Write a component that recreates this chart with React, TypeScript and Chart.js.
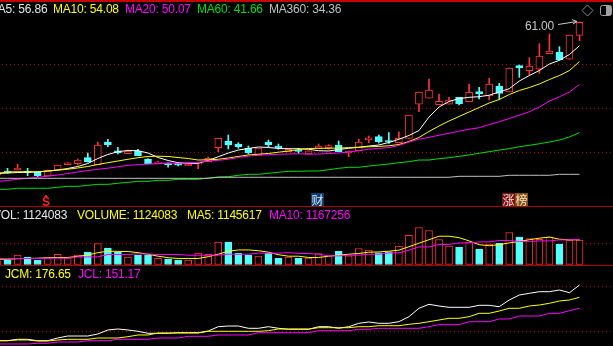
import React, { useEffect, useRef } from 'react';
import { Chart, registerables } from 'chart.js';
Chart.register(...registerables);

// ---------- data ----------
const OPEN = [34.24, 34.94, 35.11, 34.94, 34.71, 34.07, 35.11, 36.04, 36.22, 37.27,
  36.04, 40.01, 38.49, 37.97, 38.44, 36.99, 36.22, 36.39, 36.29, 35.87,
  36.16, 36.57, 39.02, 40.19, 39.66, 38.91, 37.74, 40.01, 39.31, 38.32,
  38.61, 37.91, 38.91, 39.02, 39.49, 38.09, 38.49, 40.36, 40.94, 40.24,
  39.89, 40.66, 46.61, 47.66, 46.54, 46.61, 47.83, 47.06, 48.81, 48.06,
  49.81, 48.76, 53.39, 52.48, 52.73, 55.46, 55.70, 54.48, 58.67];
const HIGH = [34.90, 35.41, 36.11, 35.41, 34.71, 35.11, 35.99, 36.39, 37.04, 38.09,
  40.01, 40.49, 39.09, 38.61, 38.74, 37.10, 36.69, 36.39, 36.43, 36.11,
  36.39, 37.39, 40.66, 41.24, 39.89, 39.31, 38.96, 40.36, 39.66, 38.79,
  38.87, 38.49, 39.66, 39.54, 40.19, 38.44, 40.49, 41.06, 41.24, 41.64,
  41.81, 44.73, 48.76, 51.03, 48.41, 47.83, 47.83, 50.16, 49.58, 51.15,
  50.28, 52.96, 53.48, 54.76, 57.20, 58.90, 56.68, 58.73, 61.00];
const LOW = [34.10, 34.54, 35.11, 34.12, 33.94, 34.07, 35.11, 36.04, 35.99, 36.51,
  36.04, 39.19, 37.91, 37.97, 37.62, 36.16, 36.22, 35.59, 35.81, 35.87,
  35.34, 36.57, 38.32, 38.79, 38.91, 37.91, 37.74, 39.19, 38.74, 38.32,
  38.04, 37.91, 38.91, 38.74, 38.32, 37.44, 38.49, 39.89, 39.84, 39.78,
  39.89, 40.66, 45.31, 47.66, 46.54, 46.61, 46.48, 47.06, 47.53, 47.36,
  47.48, 48.76, 51.33, 51.73, 52.03, 55.46, 54.35, 54.48, 57.73];
const CLOSE = [34.76, 34.64, 35.46, 34.71, 34.12, 35.11, 35.99, 36.39, 36.86, 36.51,
  39.49, 39.54, 38.14, 38.44, 37.62, 36.16, 36.51, 36.04, 35.94, 36.11,
  36.39, 37.16, 40.66, 39.49, 39.19, 38.14, 38.96, 39.54, 38.96, 38.74,
  38.35, 38.49, 39.31, 39.37, 38.32, 38.44, 40.01, 40.76, 40.06, 40.01,
  40.66, 44.73, 48.76, 49.11, 47.13, 47.36, 46.66, 48.70, 48.41, 50.16,
  48.53, 52.96, 52.96, 53.31, 55.05, 55.93, 54.35, 58.73, 60.95];

const MA5 = [34.50, 34.59, 34.68, 34.71, 34.77, 34.94, 35.12, 35.38, 35.73, 36.25,
  37.13, 37.83, 38.32, 38.53, 38.49, 38.09, 37.30, 36.78, 36.39, 36.29,
  36.29, 36.78, 37.44, 38.09, 38.61, 38.88, 39.14, 39.05, 38.88, 38.84,
  38.84, 38.74, 38.49, 38.44, 38.70, 38.91, 39.09, 39.31, 39.49, 39.93,
  40.48, 41.15, 42.02, 44.38, 46.13, 47.10, 47.59, 47.83, 47.94, 48.20,
  48.76, 49.33, 50.68, 51.64, 52.52, 53.65, 54.30, 55.32, 56.86];
const MA10 = [34.50, 34.77, 34.82, 34.82, 34.82, 34.91, 35.08, 35.25, 35.47, 35.73,
  36.08, 36.39, 36.69, 36.99, 37.27, 37.48, 37.53, 37.48, 37.30, 37.13,
  36.86, 36.90, 36.99, 37.21, 37.48, 37.74, 37.88, 38.00, 38.23, 38.44,
  38.68, 38.88, 38.91, 38.91, 38.96, 39.02, 39.10, 39.17, 39.24, 39.35,
  39.57, 40.10, 40.80, 41.85, 42.81, 43.69, 44.47, 45.26, 46.05, 46.83,
  47.45, 48.32, 49.02, 49.54, 50.16, 50.94, 51.64, 52.52, 54.08];
const MA20 = [33.10, 33.28, 33.49, 33.66, 33.84, 34.03, 34.24, 34.50, 34.77, 35.03,
  35.24, 35.43, 35.69, 35.94, 36.04, 36.16, 36.22, 36.29, 36.29, 36.39,
  36.46, 36.69, 36.81, 36.99, 37.30, 37.56, 37.69, 37.79, 37.86, 37.91,
  37.95, 37.88, 37.91, 38.00, 38.09, 38.26, 38.49, 38.74, 38.91, 39.02,
  39.43, 40.01, 40.50, 40.83, 41.20, 41.53, 41.90, 42.25, 42.51, 43.07,
  43.55, 44.12, 44.70, 45.30, 46.13, 47.18, 47.92, 48.76, 50.07];
const MA60 = [31.74, 31.74, 31.92, 31.92, 31.92, 31.92, 32.09, 32.26, 32.26, 32.44,
  32.61, 32.61, 32.79, 32.96, 33.14, 33.14, 33.31, 33.31, 33.49, 33.49,
  33.49, 33.72, 33.89, 33.94, 34.19, 34.36, 34.36, 34.54, 34.71, 34.89,
  34.89, 34.94, 34.94, 35.17, 35.41, 35.59, 35.59, 35.81, 35.99, 36.16,
  36.39, 36.57, 36.86, 36.86, 37.09, 37.27, 37.51, 37.74, 38.04, 38.32,
  38.61, 38.84, 39.19, 39.43, 39.71, 40.01, 40.36, 40.90, 41.66];
const MA360 = [33.66, 33.66, 33.66, 33.66, 33.66, 33.66, 33.66, 33.66, 33.66, 33.66,
  33.66, 33.66, 33.66, 33.66, 33.66, 33.66, 33.66, 33.66, 33.66, 33.66,
  33.66, 33.66, 33.84, 33.84, 33.84, 33.84, 33.84, 33.84, 33.84, 33.84,
  33.84, 33.84, 33.84, 33.84, 33.84, 33.84, 33.84, 33.84, 33.84, 33.84,
  33.84, 33.84, 33.84, 33.84, 33.84, 33.84, 34.01, 34.01, 34.01, 34.01,
  34.01, 34.19, 34.19, 34.19, 34.19, 34.19, 34.36, 34.36, 34.36];

const VOLUME = [167000, 199000, 430000, 338000, 199000, 305000, 476000, 305000, 430000, 569000,
  971000, 754000, 569000, 338000, 430000, 430000, 291000, 245000, 199000, 199000,
  523000, 476000, 1032000, 1032000, 523000, 430000, 384000, 523000, 291000, 338000,
  291000, 300000, 509000, 398000, 615000, 398000, 740000, 662000, 537000, 583000,
  847000, 1355000, 1712000, 1573000, 1157000, 847000, 800000, 1032000, 708000, 939000,
  985000, 1480000, 1263000, 1203000, 1170000, 1263000, 939000, 1124000, 1124083];
const VOL_MA5 = [245000, 245000, 268000, 278000, 291000, 315000, 324000, 324000, 375000, 439000,
  546000, 615000, 606000, 601000, 546000, 476000, 384000, 315000, 278000, 278000,
  278000, 361000, 476000, 615000, 671000, 675000, 638000, 569000, 453000, 384000,
  384000, 324000, 324000, 384000, 430000, 476000, 509000, 569000, 583000, 615000,
  662000, 823000, 985000, 1147000, 1309000, 1309000, 1240000, 1092000, 916000, 870000,
  916000, 999000, 1064000, 1147000, 1217000, 1272000, 1170000, 1138000, 1145617];
const VOL_MA10 = [278000, 278000, 278000, 278000, 278000, 291000, 291000, 291000, 352000, 352000,
  352000, 463000, 463000, 463000, 490000, 490000, 463000, 463000, 463000, 430000,
  430000, 430000, 430000, 476000, 476000, 476000, 523000, 523000, 523000, 555000,
  509000, 509000, 476000, 398000, 398000, 430000, 430000, 476000, 476000, 537000,
  537000, 662000, 814000, 814000, 925000, 925000, 999000, 999000, 1045000, 1045000,
  1110000, 1110000, 1064000, 1064000, 1092000, 1092000, 1138000, 1138000, 1167256];

const JCS = [76.14, 76.14, 79.38, 79.38, 76.14, 76.14, 82.39, 87.02, 87.02, 87.02,
  91.66, 100.92, 103.24, 100.92, 97.91, 93.28, 93.28, 93.28, 94.67, 94.67,
  94.67, 98.60, 108.56, 110.18, 110.18, 104.86, 104.86, 108.56, 104.86, 102.54,
  102.54, 102.54, 108.56, 108.56, 104.86, 108.56, 116.44, 119.45, 116.44, 116.44,
  120.14, 131.72, 151.17, 160.44, 156.50, 153.49, 153.49, 153.49, 158.12, 158.12,
  154.88, 170.40, 181.98, 185.92, 189.62, 189.62, 193.56, 187.30, 205.14];
const JCM = [76.14, 76.14, 77.76, 77.76, 75.44, 75.44, 77.76, 79.38, 79.38, 79.38,
  82.39, 82.39, 82.39, 85.40, 89.34, 89.34, 93.97, 93.97, 93.97, 93.97,
  93.97, 97.91, 97.91, 97.91, 97.91, 97.91, 97.91, 99.30, 103.24, 103.24,
  103.24, 103.24, 106.25, 106.25, 106.25, 106.25, 108.56, 108.56, 110.88, 110.88,
  110.88, 114.12, 116.44, 120.14, 124.08, 128.02, 128.02, 131.72, 139.60, 139.60,
  144.92, 151.17, 151.17, 156.50, 158.82, 162.76, 168.08, 170.40, 176.65];
const JCL = [68.50, 68.50, 68.50, 68.50, 70.12, 70.12, 73.13, 73.13, 73.13, 76.14,
  76.14, 76.14, 79.38, 79.38, 79.38, 79.38, 82.39, 82.39, 82.39, 86.33,
  86.33, 86.33, 89.34, 89.34, 89.34, 89.34, 94.67, 94.67, 94.67, 94.67,
  94.67, 94.67, 99.30, 99.30, 99.30, 99.30, 102.54, 102.54, 104.86, 104.86,
  104.86, 104.86, 104.86, 108.56, 113.19, 113.19, 113.19, 120.14, 120.14, 120.14,
  126.40, 126.40, 133.34, 133.34, 133.34, 139.60, 139.60, 145.58, 151.17];

const PRICE_GRID = [53.57, 45.91, 38.21];
const VOL_GRID = [985000];
const JC_GRID = [202.8, 97.9];

const MAIN_LEGEND = [
  { text: 'MA5: 56.86', color: '#e8e8e8', x: -12 },
  { text: 'MA10: 54.08', color: '#ffff00', x: 53 },
  { text: 'MA20: 50.07', color: '#ff00ff', x: 125 },
  { text: 'MA60: 41.66', color: '#00e000', x: 197 },
  { text: 'MA360: 34.36', color: '#c0c0c0', x: 269 },
];
const VOL_LEGEND = [
  { text: 'VOL: 1124083', color: '#e8e8e8', x: -7 },
  { text: 'VOLUME: 1124083', color: '#ffff00', x: 77 },
  { text: 'MA5: 1145617', color: '#ffff00', x: 187 },
  { text: 'MA10: 1167256', color: '#ff00ff', x: 269 },
];
const JC_LEGEND = [
  { text: 'JCM: 176.65', color: '#ffff00', x: 5 },
  { text: 'JCL: 151.17', color: '#ff00ff', x: 78 },
];
const MAX_LABEL = '61.00';

// ---------- styling ----------
const RED = '#ff3232';
const CYAN = '#54ffff';
const W = 613;
const X_MIN = 0.249;
const X_MAX = 61.338;
const FONT = '"Liberation Sans", Arial, sans-serif';

const pts = (arr: number[]) => arr.map((v, i) => ({ x: i, y: v }));
const isUp = CLOSE.map((c, i) => c >= OPEN[i]);

const dotted = (values: number[]) => ({
  id: 'dottedGrid',
  beforeDatasetsDraw(chart: any) {
    const { ctx, chartArea, scales } = chart;
    ctx.save();
    ctx.strokeStyle = '#b00000';
    ctx.lineWidth = 1;
    ctx.setLineDash([1, 3]);
    values.forEach((v) => {
      const y = Math.round(scales.y.getPixelForValue(v)) + 0.5;
      ctx.beginPath();
      ctx.moveTo(chartArea.left + 2, y);
      ctx.lineTo(chartArea.right, y);
      ctx.stroke();
    });
    ctx.restore();
  },
});

const baseOptions = (yMin: number, yMax: number): any => ({
  animation: false,
  responsive: false,
  maintainAspectRatio: false,
  events: [],
  layout: { padding: 0 },
  plugins: { legend: { display: false }, tooltip: { enabled: false } },
  scales: {
    x: { type: 'linear', min: X_MIN, max: X_MAX, display: false, offset: false },
    y: { type: 'linear', min: yMin, max: yMax, display: false },
  },
});

const line = (data: number[], color: string) => ({
  type: 'line',
  data: pts(data),
  borderColor: color,
  borderWidth: 1,
  pointRadius: 0,
  tension: 0,
  order: 0,
});

const mainConfig = (): any => ({
  type: 'bar',
  data: {
    datasets: [
      {
        type: 'bar',
        data: HIGH.map((h, i) => ({ x: i, y: [LOW[i], h] })),
        backgroundColor: isUp.map((u) => (u ? RED : CYAN)),
        borderWidth: 0,
        barThickness: 1,
        grouped: false,
        order: 2,
      },
      {
        type: 'bar',
        data: OPEN.map((o, i) => ({ x: i, y: [o, CLOSE[i]] })),
        backgroundColor: isUp.map((u) => (u ? '#000000' : CYAN)),
        borderColor: isUp.map((u) => (u ? RED : CYAN)),
        borderWidth: 1,
        borderSkipped: false,
        barThickness: 7,
        minBarLength: 1,
        grouped: false,
        order: 1,
      },
      line(MA360, '#c0c0c0'),
      line(MA60, '#00e000'),
      line(MA20, '#ff00ff'),
      line(MA10, '#ffff00'),
      line(MA5, '#ffffff'),
    ],
  },
  options: baseOptions(28.82, 64.848),
  plugins: [dotted(PRICE_GRID)],
});

const volConfig = (): any => ({
  type: 'bar',
  data: {
    datasets: [
      {
        type: 'bar',
        data: VOLUME.map((v, i) => ({ x: i, y: v })),
        backgroundColor: isUp.map((u) => (u ? '#000000' : CYAN)),
        borderColor: isUp.map((u) => (u ? RED : CYAN)),
        borderWidth: 1,
        borderSkipped: false,
        barThickness: 7,
        grouped: false,
        order: 1,
      },
      line(VOL_MA10, '#ff00ff'),
      line(VOL_MA5, '#ffff00'),
    ],
  },
  options: baseOptions(-23130, 2659950),
  plugins: [dotted(VOL_GRID)],
});

const jcConfig = (): any => ({
  type: 'line',
  data: {
    datasets: [line(JCL, '#ff00ff'), line(JCM, '#ffff00'), line(JCS, '#ffffff')],
  },
  options: baseOptions(63.86, 249.14),
  plugins: [dotted(JC_GRID)],
});

function ChartCanvas({ top, height, make }: { top: number; height: number; make: () => any }) {
  const ref = useRef<HTMLCanvasElement | null>(null);
  useEffect(() => {
    if (!ref.current) return;
    const c = new Chart(ref.current, make());
    return () => c.destroy();
  }, []);
  return (
    <canvas
      ref={ref}
      width={W}
      height={height}
      style={{ position: 'absolute', left: 0, top, width: W, height }}
    />
  );
}

function Label({ x, y, color, children, size = 12 }: any) {
  return (
    <div
      style={{
        position: 'absolute',
        left: x,
        top: y,
        color,
        fontFamily: FONT,
        fontSize: size,
        lineHeight: `${size}px`,
        whiteSpace: 'nowrap',
        letterSpacing: '-0.2px',
      }}
    >
      {children}
    </div>
  );
}

const hLine = (y: number, h: number, color: string) => (
  <div style={{ position: 'absolute', left: 0, top: y, width: W, height: h, background: color }} />
);

export default function App() {
  return (
    <div
      style={{
        position: 'fixed',
        left: 0,
        top: 0,
        width: W,
        height: 346,
        background: '#000',
        overflow: 'hidden',
      }}
    >
      <ChartCanvas top={0} height={206} make={mainConfig} />
      <ChartCanvas top={207} height={58} make={volConfig} />
      <ChartCanvas top={266} height={80} make={jcConfig} />

      {hLine(0, 2, '#c80000')}
      {hLine(206, 1, '#b00000')}
      {hLine(265, 1, '#b00000')}

      {MAIN_LEGEND.map((l) => (
        <Label key={l.text} x={l.x} y={3} color={l.color}>{l.text}</Label>
      ))}
      {VOL_LEGEND.map((l) => (
        <Label key={l.text} x={l.x} y={208.5} color={l.color}>{l.text}</Label>
      ))}
      {JC_LEGEND.map((l) => (
        <Label key={l.text} x={l.x} y={267.5} color={l.color}>{l.text}</Label>
      ))}

      <Label x={525} y={20} color="#c8c8c8">{MAX_LABEL}</Label>

      <svg width={W} height={346} style={{ position: 'absolute', left: 0, top: 0 }}>
        <line x1={558} y1={24.5} x2={577} y2={21.5} stroke="#c8c8c8" strokeWidth={1} />
        <polyline points="572,19.5 577,21.5 573,24" fill="none" stroke="#c8c8c8" strokeWidth={1} />
        <polygon points="587.5,5 593,10.5 587.5,16 582,10.5" fill="none" stroke="#8c8c8c" strokeWidth={1} />
        <rect x={600.5} y={5.5} width={11} height={10} rx={2} fill="none" stroke="#a0a0a0" strokeWidth={1} />
        <rect x={606} y={6} width={5} height={9} fill="#a0a0a0" />
        <polygon points="44,197 46,194.5 48,197" fill="#ff2020" />
      </svg>

      <div
        style={{
          position: 'absolute', left: 42, top: 196, color: '#ff2020', fontFamily: FONT,
          fontWeight: 'bold', fontSize: 12, lineHeight: '12px',
        }}
      >
        S
      </div>
      <div
        style={{
          position: 'absolute', left: 311, top: 193, width: 13, height: 13, background: '#0e3d70',
          color: '#d8e6f4', fontFamily: '"Noto Sans CJK SC", sans-serif', fontSize: 12,
          lineHeight: '13px', textAlign: 'center',
        }}
      >
        财
      </div>
      <div
        style={{
          position: 'absolute', left: 502, top: 193, width: 13, height: 13, background: '#7a1010',
          color: '#f4dada', fontFamily: '"Noto Sans CJK SC", sans-serif', fontSize: 12,
          lineHeight: '13px', textAlign: 'center',
        }}
      >
        涨
      </div>
      <div
        style={{
          position: 'absolute', left: 515, top: 193, width: 13, height: 13, background: '#8a5012',
          color: '#f4e4d0', fontFamily: '"Noto Sans CJK SC", sans-serif', fontSize: 12,
          lineHeight: '13px', textAlign: 'center',
        }}
      >
        榜
      </div>
    </div>
  );
}
